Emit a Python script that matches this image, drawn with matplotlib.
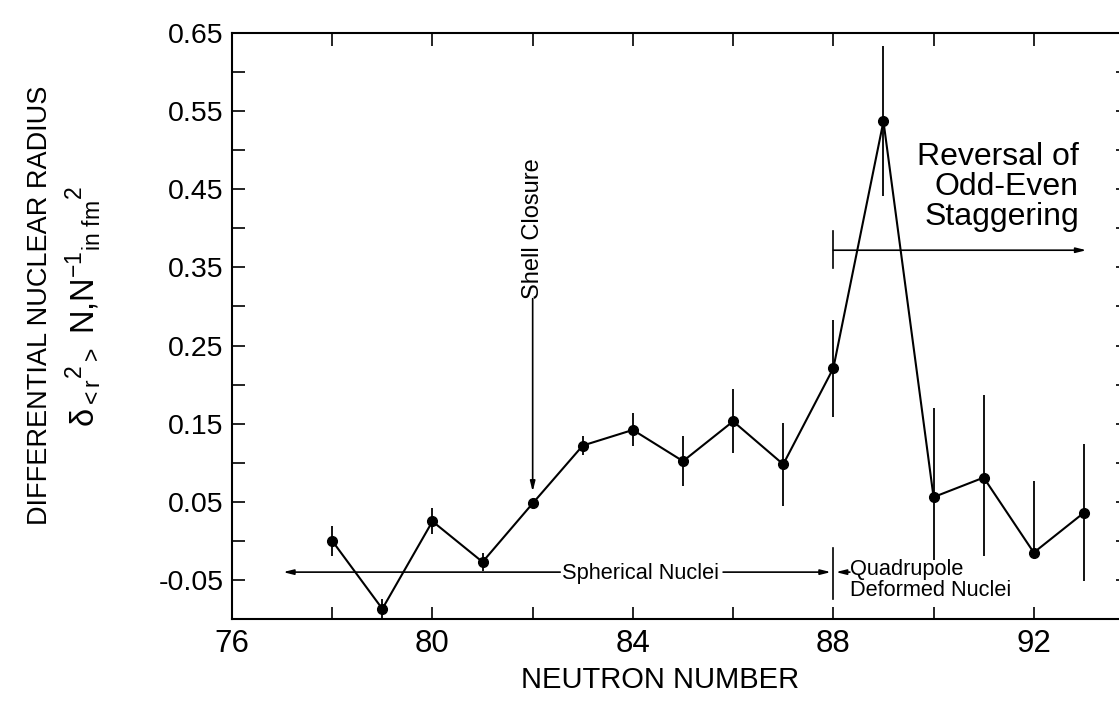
import matplotlib
matplotlib.use("Agg")
import matplotlib.pyplot as plt
from matplotlib.ticker import MultipleLocator, FixedLocator

# ---- data ----
neutron_number = [78, 79, 80, 81, 82, 83, 84, 85, 86, 87, 88, 89, 90, 91, 92, 93]
delta_r2 = [0.000, -0.087, 0.025, -0.027, 0.048, 0.122, 0.142, 0.102, 0.153,
            0.098, 0.221, 0.537, 0.056, 0.081, -0.015, 0.036]
err_low = [0.019, 0.012, 0.016, 0.011, 0.005, 0.012, 0.020, 0.032, 0.041,
           0.053, 0.062, 0.096, 0.080, 0.101, 0.000, 0.088]
err_high = [0.019, 0.012, 0.017, 0.011, 0.005, 0.012, 0.022, 0.032, 0.042,
            0.053, 0.062, 0.096, 0.114, 0.106, 0.092, 0.088]

x_major = [76, 80, 84, 88, 92]
x_labels = ["76", "80", "84", "88", "92"]
y_major = [-0.05, 0.05, 0.15, 0.25, 0.35, 0.45, 0.55, 0.65]
y_labels = ["-0.05", "0.05", "0.15", "0.25", "0.35", "0.45", "0.55", "0.65"]

plt.rcParams["font.family"] = ["Liberation Sans", "DejaVu Sans"]
plt.rcParams["mathtext.fontset"] = "custom"
plt.rcParams["mathtext.rm"] = "Liberation Sans"
plt.rcParams["mathtext.it"] = "Liberation Sans:italic"
plt.rcParams["mathtext.bf"] = "Liberation Sans:bold"

W, H = 1119, 715
fig = plt.figure(figsize=(W / 100, H / 100), dpi=100)
ax = fig.add_axes([232 / W, 1 - 619 / H, (1128 - 232) / W, (619 - 33) / H])

ax.errorbar(neutron_number, delta_r2, yerr=[err_low, err_high], fmt="-o",
            color="black", lw=1.5, elinewidth=1.3, capsize=0, ms=7,
            clip_on=True, zorder=3)

ax.set_xlim(76, 93.88)
ax.set_ylim(-0.10, 0.65)

ax.xaxis.set_major_locator(FixedLocator(x_major))
ax.set_xticklabels(x_labels)
ax.xaxis.set_minor_locator(MultipleLocator(2))
ax.yaxis.set_major_locator(FixedLocator(y_major))
ax.set_yticklabels(y_labels)
ax.yaxis.set_minor_locator(MultipleLocator(0.1))
ax.tick_params(which="both", direction="in", length=9, width=1.2,
               top=True, right=True)
ax.tick_params(axis="x", which="major", pad=7, labelsize=22.5)
ax.tick_params(axis="y", which="major", pad=6, labelsize=20.5)
for s in ax.spines.values():
    s.set_linewidth(1.5)

fig.text(660 / W, 1 - 680 / H, "NEUTRON NUMBER", ha="center", va="center",
         fontsize=21)

fig.text(40 / W, 1 - 305 / H, "DIFFERENTIAL NUCLEAR RADIUS", rotation=90,
         ha="center", va="center", fontsize=19.5)
fig.text(83 / W, 1 - 306 / H,
         r"$\mathrm{\delta}_{\mathrm{<r}}{}^{\mathrm{2}}{}_{\mathrm{>}}\ "
         r"\mathrm{N{,}N}^{\mathrm{-1}}{}_{\mathrm{in\ fm}}{}^{\mathrm{2}}$",
         rotation=90, ha="center", va="center", fontsize=23.5)

arrow_kw = dict(arrowstyle="-|>,head_length=0.6,head_width=0.15",
                color="black", lw=1.2, shrinkA=0, shrinkB=0)

# Shell closure
ax.text(82, 0.40, "Shell Closure", rotation=90, ha="center", va="center",
        fontsize=17)
ax.annotate("", xy=(82, 0.063), xytext=(82, 0.31), arrowprops=arrow_kw)

# Spherical nuclei
ax.text(84.16, -0.042, "Spherical Nuclei", ha="center", va="center",
        fontsize=15.7)
ax.annotate("", xy=(77.02, -0.040), xytext=(82.55, -0.040), arrowprops=arrow_kw)
ax.annotate("", xy=(87.95, -0.040), xytext=(85.8, -0.040), arrowprops=arrow_kw)
ax.plot([88, 88], [-0.009, -0.074], color="black", lw=1.2)

# Quadrupole deformed nuclei
ax.annotate("", xy=(88.05, -0.040), xytext=(88.33, -0.040), arrowprops=arrow_kw)
ax.text(88.33, -0.037, "Quadrupole", ha="left", va="center", fontsize=15.7)
ax.text(88.33, -0.064, "Deformed Nuclei", ha="left", va="center", fontsize=15.7)
ax.annotate("", xy=(94.1, -0.040), xytext=(92.05, -0.040), arrowprops=arrow_kw)

# Reversal of odd-even staggering
ax.text(92.9, 0.395, "Reversal of\nOdd-Even\nStaggering", ha="right",
        va="bottom", multialignment="right", fontsize=23, linespacing=1.0)
ax.plot([88, 88], [0.349, 0.396], color="black", lw=1.2)
ax.annotate("", xy=(93.05, 0.372), xytext=(88, 0.372), arrowprops=arrow_kw)

fig.savefig("out.png", dpi=100)
